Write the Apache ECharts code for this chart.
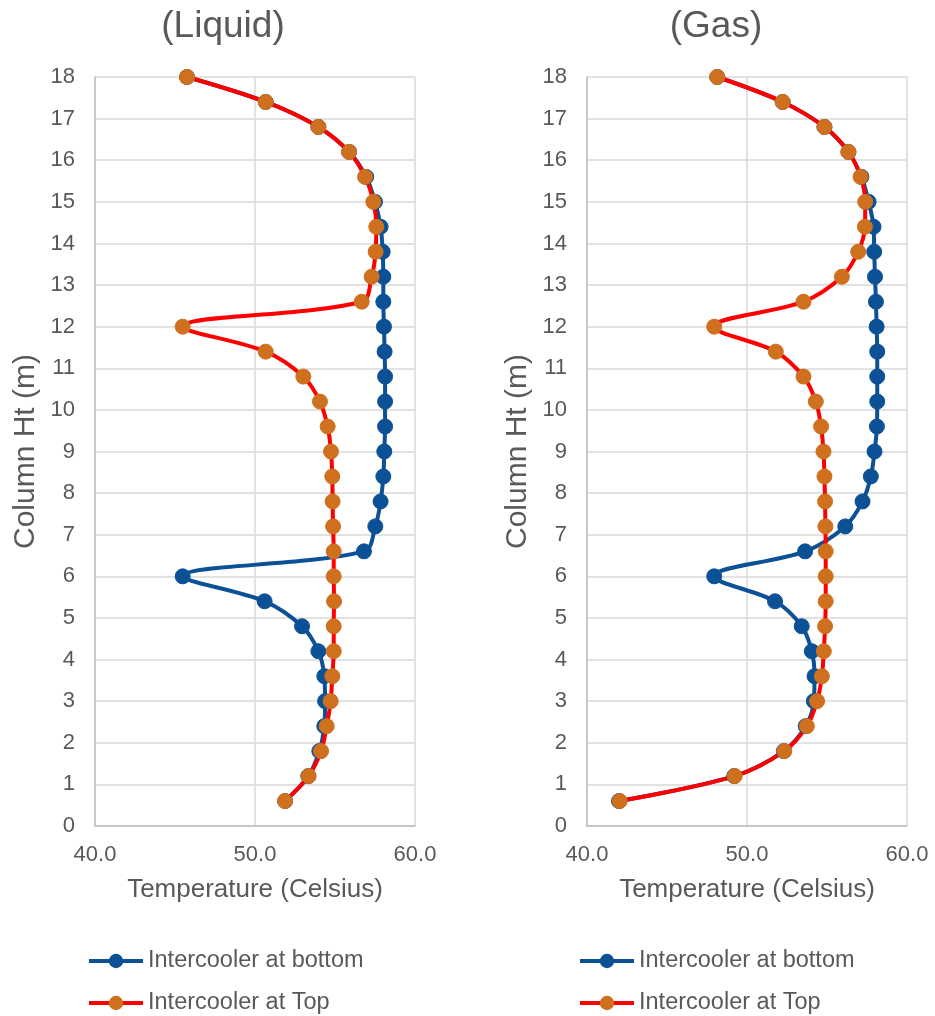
<!DOCTYPE html>
<html>
<head>
<meta charset="utf-8">
<script src="https://cdn.jsdelivr.net/npm/echarts@6/dist/echarts.min.js"></script>
<style>
html,body{margin:0;padding:0;background:#fff;}
#chart{width:935px;height:1016px;}
</style>
</head>
<body>
<div id="chart"></div>
<script>
// Column heights (m)
var heights = [0.6, 1.2, 1.8, 2.4, 3.0, 3.6, 4.2, 4.8, 5.4, 6.0, 6.6, 7.2, 7.8, 8.4, 9.0, 9.6, 10.2, 10.8, 11.4, 12.0, 12.6, 13.2, 13.8, 14.4, 15.0, 15.6, 16.2, 16.8, 17.4, 18.0];

// Liquid panel temperatures (Celsius)
var liquidBottom = [51.88, 53.33, 54.02, 54.33, 54.38, 54.33, 53.96, 52.94, 50.60, 45.48, 56.81, 57.52, 57.85, 58.02, 58.08, 58.13, 58.13, 58.13, 58.10, 58.06, 58.02, 58.02, 57.98, 57.85, 57.50, 56.95, 55.88, 53.96, 50.67, 45.75];
var liquidTop = [51.88, 53.35, 54.13, 54.48, 54.73, 54.83, 54.92, 54.92, 54.94, 54.92, 54.92, 54.88, 54.85, 54.83, 54.75, 54.54, 54.06, 53.02, 50.67, 45.48, 56.67, 57.29, 57.54, 57.58, 57.40, 56.88, 55.88, 53.96, 50.67, 45.75];

// Gas panel temperatures (Celsius)
var gasBottom = [42.00, 49.20, 52.30, 53.67, 54.18, 54.22, 54.05, 53.42, 51.75, 47.95, 53.63, 56.14, 57.22, 57.74, 57.97, 58.12, 58.14, 58.14, 58.14, 58.10, 58.06, 58.00, 57.95, 57.91, 57.60, 57.15, 56.34, 54.84, 52.23, 48.14];
var gasTop = [42.04, 49.23, 52.33, 53.74, 54.38, 54.68, 54.80, 54.88, 54.92, 54.92, 54.92, 54.90, 54.88, 54.84, 54.78, 54.63, 54.30, 53.53, 51.80, 47.95, 53.53, 55.93, 56.95, 57.37, 57.39, 57.10, 56.34, 54.84, 52.23, 48.14];

var panelTitles = ['(Liquid)', '(Gas)'];
var seriesNames = ['Intercooler at bottom', 'Intercooler at Top'];
var xTitle = 'Temperature (Celsius)';
var yTitle = 'Column Ht (m)';

function pairs(temps) {
  return temps.map(function (t, i) { return [t, heights[i]]; });
}

var FONT = '"Liberation Sans", Arial, sans-serif';
var TXT = '#595959';
var BLUE = '#0C5196';
var RED = '#FF0000';
var ORANGE = '#CF701F';

var grids = [
  {left: 95, right: 520, top: 77, bottom: 190},
  {left: 587, right: 28, top: 77, bottom: 190}
];

function xAxisFor(i) {
  return {
    gridIndex: i, type: 'value', min: 40, max: 60, interval: 10,
    name: xTitle, nameLocation: 'middle', nameGap: 51,
    nameTextStyle: {fontFamily: FONT, fontSize: 26, color: TXT},
    axisLine: {show: true, lineStyle: {color: '#bfbfbf', width: 1.5}},
    axisTick: {show: false},
    axisLabel: {fontFamily: FONT, fontSize: 22, color: TXT, margin: 18,
      formatter: function (v) { return v.toFixed(1); }},
    splitLine: {show: true, lineStyle: {color: '#d9d9d9', width: 1.5}}
  };
}
function yAxisFor(i) {
  return {
    gridIndex: i, type: 'value', min: 0, max: 18, interval: 1,
    name: yTitle, nameLocation: 'middle', nameGap: 54,
    nameTextStyle: {fontFamily: FONT, fontSize: 30, color: TXT},
    axisLine: {show: true, lineStyle: {color: '#bfbfbf', width: 1.5}},
    axisTick: {show: false},
    axisLabel: {fontFamily: FONT, fontSize: 22, color: TXT, margin: 20},
    splitLine: {show: true, lineStyle: {color: '#d9d9d9', width: 1.5}}
  };
}
function lineSeries(name, temps, gi, lineColor, markColor) {
  return {
    name: name, type: 'line', xAxisIndex: gi, yAxisIndex: gi,
    data: pairs(temps), smooth: 0.35,
    symbol: 'circle', symbolSize: 15,
    lineStyle: {color: lineColor, width: 4},
    itemStyle: {color: markColor, borderColor: markColor},
    animation: false
  };
}
function legendItem(left, top, name) {
  return {
    orient: 'horizontal', left: left, top: top,
    itemWidth: 54, itemHeight: 18, itemGap: 10,
    lineStyle: {width: 4},
    textStyle: {fontFamily: FONT, fontSize: 23.5, color: TXT},
    data: [name]
  };
}

var chart = echarts.init(document.getElementById('chart'), null, {renderer: 'canvas'});
chart.setOption({
  backgroundColor: '#ffffff',
  animation: false,
  title: [
    {text: panelTitles[0], left: 218, top: 3, textAlign: 'center',
      textStyle: {fontFamily: FONT, fontSize: 37, fontWeight: 'normal', color: TXT}},
    {text: panelTitles[1], left: 711, top: 3, textAlign: 'center',
      textStyle: {fontFamily: FONT, fontSize: 37, fontWeight: 'normal', color: TXT}}
  ],
  grid: grids,
  xAxis: [xAxisFor(0), xAxisFor(1)],
  yAxis: [yAxisFor(0), yAxisFor(1)],
  legend: [
    legendItem(82, 944, seriesNames[0]),
    legendItem(82, 986, seriesNames[1]),
    legendItem(573, 944, seriesNames[0]),
    legendItem(573, 986, seriesNames[1])
  ],
  series: [
    lineSeries(seriesNames[0], liquidBottom, 0, BLUE, BLUE),
    lineSeries(seriesNames[1], liquidTop, 0, RED, ORANGE),
    lineSeries(seriesNames[0], gasBottom, 1, BLUE, BLUE),
    lineSeries(seriesNames[1], gasTop, 1, RED, ORANGE)
  ]
});
</script>
</body>
</html>
